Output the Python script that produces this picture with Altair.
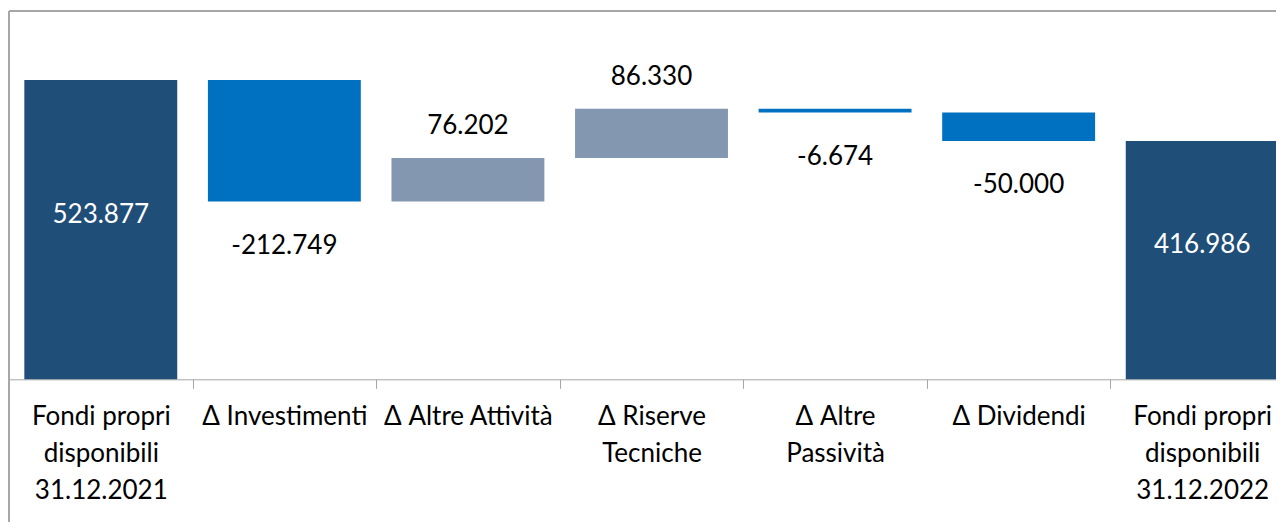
import altair as alt
import pandas as pd

categories = [
    "Fondi propri\ndisponibili\n31.12.2021",
    "Δ Investimenti",
    "Δ Altre Attività",
    "Δ Riserve\nTecniche",
    "Δ Altre\nPassività",
    "Δ Dividendi",
    "Fondi propri\ndisponibili\n31.12.2022",
]
amounts = [523.877, -212.749, 76.202, 86.330, -6.674, -50.000, 416.986]
is_total = [True, False, False, False, False, False, True]

rows = []
running = 0.0
for cat, amt, tot in zip(categories, amounts, is_total):
    if tot:
        start, end = 0.0, amt
        running = amt
        kind = "total"
    else:
        start, end = running, running + amt
        running = end
        kind = "pos" if amt >= 0 else "neg"
    rows.append({"cat": cat, "amount": amt, "start": start, "end": end,
                 "kind": kind, "label": f"{amt:.3f}"})
df = pd.DataFrame(rows)

PX_PER_UNIT = 0.5713
W, H = 1267, 511
FONT = "Lato"
GRAY = "#A6A6A6"

x_enc = alt.X("cat:N", sort=categories,
              scale=alt.Scale(paddingInner=0, paddingOuter=0, range=[0, 1285]),
              axis=alt.Axis(title=None, labelAngle=0, labelFont=FONT, labelFontSize=26,
                            labelColor="black", labelLineHeight=37, labelPadding=15,
                            labelLimit=0, labelOverlap=False, labelFlush=False,
                            labelBaseline="top",
                            labelExpr="split(datum.label, '\\n')",
                            tickBand="extent", tickSize=9, tickColor=GRAY,
                            domainColor=GRAY, offset=-142.7, grid=False))
y_scale = alt.Scale(domain=[-249.8, 644.7], nice=False, zero=False)

base = alt.Chart(df)

bars = base.mark_bar(width={"band": 0.833}).encode(
    x=x_enc,
    y=alt.Y("start:Q", scale=y_scale, axis=None),
    y2="end:Q",
    color=alt.Color("kind:N", legend=None,
                    scale=alt.Scale(domain=["total", "neg", "pos"],
                                    range=["#1F4E79", "#0070C0", "#8497B0"])),
)

labels = base.transform_calculate(
    ly="datum.kind == 'total' ? (datum.start + datum.end) / 2 + 15 / %f : "
       "(datum.kind == 'neg' ? min(datum.start, datum.end) - 44 / %f : "
       "max(datum.start, datum.end) + 32 / %f)" % (PX_PER_UNIT, PX_PER_UNIT, PX_PER_UNIT)
).mark_text(font=FONT, fontSize=26, baseline="middle", align="center").encode(
    x=alt.X("cat:N", sort=categories),
    y=alt.Y("ly:Q", scale=y_scale, axis=None),
    text="label:N",
    color=alt.condition("datum.kind == 'total'", alt.value("white"), alt.value("black")),
)

frame_top = alt.Chart(df).mark_rule(color=GRAY, strokeWidth=1).encode(
    x=alt.value(0), x2=alt.value(W), y=alt.value(0))
frame_left = alt.Chart(df).mark_rule(color=GRAY, strokeWidth=1).encode(
    x=alt.value(0), y=alt.value(0), y2=alt.value(H))

chart = alt.layer(bars, labels, frame_top, frame_left).properties(
    width=W, height=H,
    autosize=alt.AutoSizeParams(type="none"),
    padding={"left": 1, "top": 3, "right": 0, "bottom": 0},
).configure_view(strokeWidth=0, stroke="transparent").configure(background="white")

chart.save("out.html", embed_options={"renderer": "svg", "actions": False})
